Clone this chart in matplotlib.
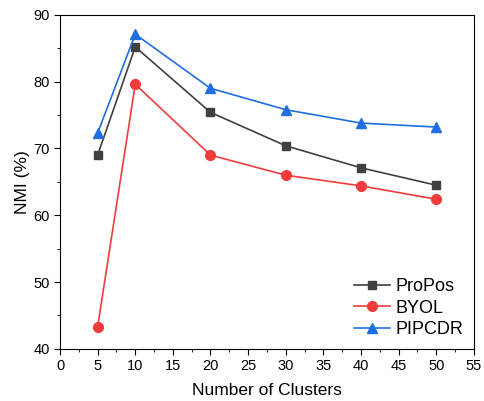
import matplotlib
matplotlib.use("Agg")
from matplotlib import pyplot as plt
from matplotlib.ticker import MultipleLocator

plt.rcParams['font.family'] = ['Liberation Sans', 'DejaVu Sans']

clusters = [5, 10, 20, 30, 40, 50]
propos = [69.0, 85.2, 75.4, 70.4, 67.1, 64.5]
byol = [43.3, 79.6, 69.0, 66.0, 64.4, 62.4]
pipcdr = [72.3, 87.1, 79.0, 75.8, 73.8, 73.2]

fig = plt.figure(figsize=(4.84, 4.01), dpi=100)
ax = fig.add_axes([0.124, 0.130, 0.855, 0.833])

ax.plot(clusters, propos, color='#404040', marker='s', markersize=6, lw=1.2, label='ProPos')
ax.plot(clusters, byol, color='#f03c3c', marker='o', markersize=7, lw=1.2, label='BYOL')
ax.plot(clusters, pipcdr, color='#1f6fe0', marker='^', markersize=7, lw=1.2, label='PIPCDR')

ax.set_xlim(0, 55)
ax.set_ylim(40, 90)
ax.xaxis.set_major_locator(MultipleLocator(5))
ax.xaxis.set_minor_locator(MultipleLocator(2.5))
ax.yaxis.set_major_locator(MultipleLocator(10))
ax.yaxis.set_minor_locator(MultipleLocator(5))
ax.tick_params(which='major', direction='out', length=4, labelsize=10.5)
ax.tick_params(which='minor', direction='out', length=2.5)

ax.set_xlabel('Number of Clusters', fontsize=12.5, labelpad=7)
ax.set_ylabel('NMI (%)', fontsize=12.5, labelpad=2)

ax.legend(loc='lower right', frameon=False, fontsize=13, handlelength=2.0,
          handletextpad=0.3, borderaxespad=0.2, labelspacing=0.25)

fig.savefig('out.png', dpi=100)
